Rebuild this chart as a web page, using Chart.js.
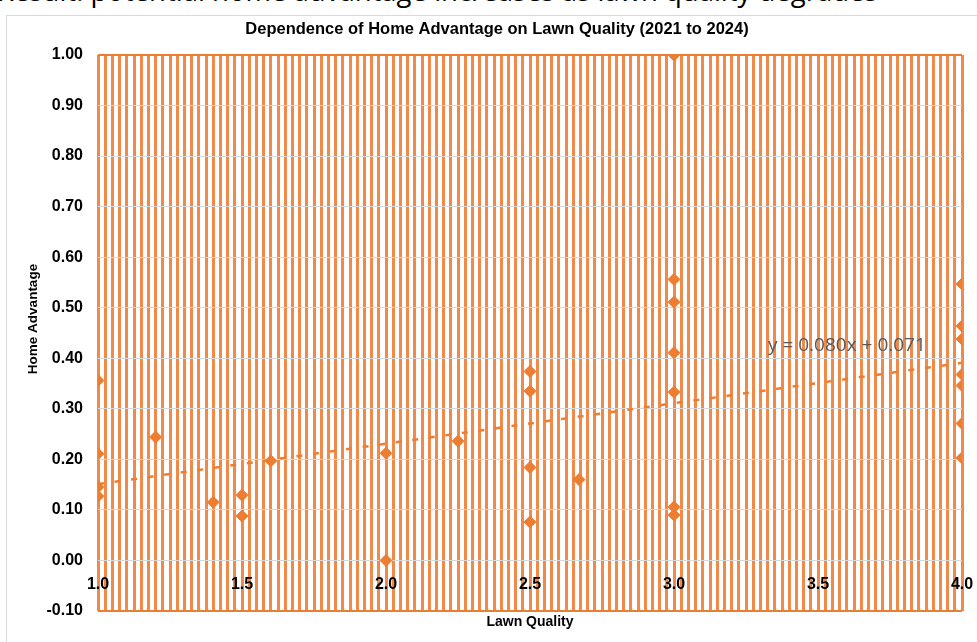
<!DOCTYPE html>
<html><head><meta charset="utf-8">
<script src="https://cdn.jsdelivr.net/npm/chart.js@4.4.1/dist/chart.umd.min.js"></script>
<style>
html,body{margin:0;padding:0;background:#fff;overflow:hidden;}
#wrap{position:relative;width:977px;height:642px;overflow:hidden;}
#frame{position:absolute;left:6px;top:15px;width:1100px;height:800px;border:1px solid #D9D9D9;box-sizing:border-box;pointer-events:none;}
#caption{position:absolute;left:-3px;top:-24px;font:27.5px/30px 'Open Sans',sans-serif;color:#000;white-space:nowrap;}
canvas{position:absolute;left:0;top:0;}
</style></head><body>
<div id="wrap"><div id="caption">Result: potential home advantage increases as lawn quality degrades</div><div id="frame"></div><canvas id="c" width="977" height="642"></canvas></div>
<script>
// ---- data ----
const qualityX = [1.0,1.0,1.0,1.0,1.2,1.4,1.5,1.5,1.6,2.0,2.0,2.25,2.5,2.5,2.5,2.5,2.67,3.0,3.0,3.0,3.0,3.0,3.0,3.0,4.0,4.0,4.0,4.0,4.0,4.0,4.0];
const homeAdvantage = [0.356,0.211,0.145,0.127,0.244,0.115,0.129,0.088,0.197,0.212,0.000,0.236,0.374,0.335,0.184,0.076,0.160,1.000,0.556,0.511,0.411,0.333,0.106,0.090,0.547,0.464,0.438,0.368,0.346,0.271,0.203];
const trendSlope = 0.080;
const trendIntercept = 0.071;
const trendX = [1.0, 4.0];
const trendLabel = 'y = 0.080x + 0.071';
const xTickLabels = ['1.0','1.5','2.0','2.5','3.0','3.5','4.0'];
const yTickLabels = ['-0.10','0.00','0.10','0.20','0.30','0.40','0.50','0.60','0.70','0.80','0.90','1.00'];
const chartTitle = 'Dependence of Home Advantage on Lawn Quality (2021 to 2024)';
const xTitle = 'Lawn Quality';
const yTitle = 'Home Advantage';

const ORANGE = '#ED7D31';
const STRIPE = '#F08A4B';
const FONT = "'Liberation Sans', Arial, sans-serif";

const extras = {
  id: 'extras',
  afterDraw(chart) {
    const c = chart.ctx;
    c.save();
    c.fillStyle = '#000';
    c.font = 'bold 13.5px ' + FONT;
    c.translate(33, 319);
    c.rotate(-Math.PI / 2);
    c.textAlign = 'center';
    c.textBaseline = 'middle';
    c.fillText(yTitle, 0, 0);
    c.restore();
    c.save();
    c.font = "19px 'Open Sans', sans-serif";
    c.fillStyle = '#595959';
    c.textBaseline = 'middle';
    c.textAlign = 'left';
    c.fillText(trendLabel, 768, 346);
    c.restore();
  }
};

new Chart(document.getElementById('c'), {
  type: 'scatter',
  data: {
    datasets: [
      {
        label: yTitle,
        data: qualityX.map((x, i) => ({x: x, y: homeAdvantage[i]})),
        pointStyle: 'rectRot',
        pointRadius: 6,
        pointHoverRadius: 6,
        backgroundColor: ORANGE,
        borderColor: ORANGE,
        borderWidth: 1,
        order: 1
      },
      {
        type: 'line',
        label: 'Trend',
        data: trendX.map(x => ({x: x, y: trendSlope * x + trendIntercept})),
        borderColor: ORANGE,
        borderWidth: 2.5,
        borderDash: [6, 10.7],
        pointRadius: 0,
        fill: false,
        order: 0
      }
    ]
  },
  options: {
    responsive: false,
    animation: false,
    layout: {padding: {left: 32, right: 15, top: 0, bottom: 0}},
    plugins: {
      legend: {display: false},
      tooltip: {enabled: false},
      title: {
        display: true,
        text: chartTitle,
        color: '#000',
        font: {family: FONT, size: 16.5, weight: 'bold'},
        padding: {top: 20, bottom: 15.2}
      }
    },
    scales: {
      x: {
        type: 'linear',
        position: {y: 0},
        min: 1, max: 4,
        grid: {color: STRIPE, lineWidth: 3, drawTicks: false, z: -2},
        border: {display: false},
        ticks: {
          stepSize: 0.025,
          maxTicksLimit: 500,
          autoSkip: false,
          maxRotation: 0,
          padding: 15,
          color: '#000',
          font: {family: FONT, size: 16, weight: 'bold'},
          callback: (v) => {
            const r = Math.round(v * 40);
            if (r % 20 === 0) {
              const idx = (r / 20) - 2;
              return xTickLabels[idx] !== undefined ? xTickLabels[idx] : '';
            }
            return '';
          }
        },
        afterFit(s) { s.paddingLeft = 0; s.paddingRight = 0; }
      },
      x2: {
        type: 'linear',
        position: 'bottom',
        min: 1, max: 4,
        ticks: {display: false},
        grid: {display: false, drawTicks: false},
        border: {display: false},
        title: {display: true, text: xTitle, color: '#000', font: {family: FONT, size: 14, weight: 'bold'}, padding: {top: 0, bottom: 11}},
        afterFit(s) { s.height = 31; s.paddingLeft = 0; s.paddingRight = 0; }
      },
      y: {
        min: -0.1, max: 1.0,
        ticks: {
          stepSize: 0.1,
          padding: 15,
          color: '#000',
          font: {family: FONT, size: 16, weight: 'bold'},
          callback: (v, i) => yTickLabels[i] !== undefined ? yTickLabels[i] : v.toFixed(2)
        },
        grid: {
          color: c => (c.index === 0 || c.index === c.scale.ticks.length - 1) ? ORANGE : '#D9D9D9',
          lineWidth: c => (c.index === 0 || c.index === c.scale.ticks.length - 1) ? 2 : 1,
          drawTicks: false,
          z: -1
        },
        border: {display: false},
        afterFit(s) { s.width = 66; }
      }
    }
  },
  plugins: [extras]
});
</script>
</body></html>
